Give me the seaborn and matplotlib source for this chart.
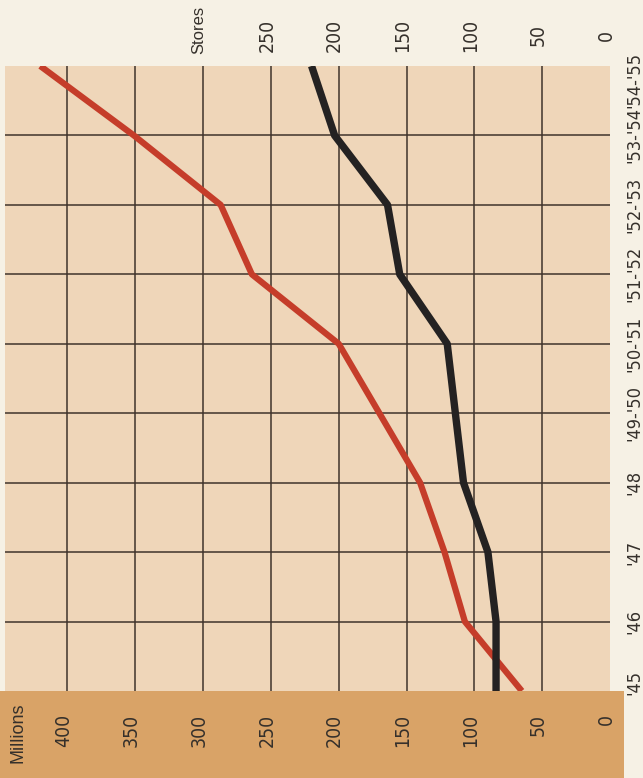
import matplotlib
matplotlib.use("Agg")
import matplotlib.pyplot as plt
import matplotlib.transforms as mtransforms
from matplotlib.patches import Rectangle
from matplotlib import font_manager
from matplotlib.font_manager import FontProperties
import seaborn as sns
import pandas as pd

# ---- data ----
categories = ["'45", "'46", "'47", "'48", "'49-'50", "'50-'51",
              "'51-'52", "'52-'53", "'53-'54", "'54-'55"]
millions = [65, 107, 122, 140, 170, 200, 264, 287, 351, 420]
stores = [84, 84, 90, 108, 114, 120, 155, 164, 203, 220]
millions_ticks = [0, 50, 100, 150, 200, 250, 300, 350, 400]
stores_ticks = [0, 50, 100, 150, 200, 250]

sns.set_style("white")


def pick_font(keys):
    for k in keys:
        for f in font_manager.fontManager.ttflist:
            if k in f.fname.split("/")[-1].lower():
                return f.fname
    return None


narrow_path = pick_font(["liberationsansnarrow-regular", "dejavusanscondensed.ttf",
                         "robotocondensed-regular", "dejavusanscondensed"])
is_liberation = bool(narrow_path) and "liberation" in narrow_path.lower()
regular_family = "Liberation Sans"
plt.rcParams["font.family"] = [regular_family, "DejaVu Sans"]


def nfont(size):
    # sizes are given for a narrow Arial-like face; DejaVu condensed is wider
    if narrow_path and is_liberation:
        return FontProperties(fname=narrow_path, size=size)
    if narrow_path:
        return FontProperties(fname=narrow_path, size=size * 0.84)
    return FontProperties(family="DejaVu Sans", size=size * 0.76)


W, H = 643, 778
BG = "#f6f1e5"
PLOT_BG = "#efd6b9"
BAND = "#d9a367"
GRID = "#3f332c"
RED = "#c53d2a"
BLACK = "#242222"
TXT = "#35302b"

fig = plt.figure(figsize=(W / 100, H / 100), dpi=100, facecolor=BG)

# orange band at the bottom (behind the axes' labels)
fig.patches.append(Rectangle((0, 0), 624 / W, 87 / H, transform=fig.transFigure,
                             facecolor=BAND, edgecolor="none", zorder=-5))

ax = fig.add_axes([5 / W, (H - 691) / H, (610 - 5) / W, (691 - 66) / H])
ax.set_facecolor(PLOT_BG)
XMAX = 446
ax.set_xlim(XMAX, 0)
ax.set_ylim(0, len(categories) - 1)
for s in ax.spines.values():
    s.set_visible(False)

# grid
for v in millions_ticks[1:]:
    ax.axvline(v, color=GRID, lw=1.1, zorder=1)
for i in range(1, len(categories) - 1):
    ax.axhline(i, color=GRID, lw=1.1, zorder=1)

df = pd.DataFrame({"cat": range(len(categories)), "millions": millions, "stores": stores})
sns.lineplot(data=df, x="millions", y="cat", orient="y", sort=False, estimator=None,
             color=RED, linewidth=4.5, ax=ax, zorder=3,
             solid_capstyle="butt", solid_joinstyle="round")
sns.lineplot(data=df, x="stores", y="cat", orient="y", sort=False, estimator=None,
             color=BLACK, linewidth=5.3, ax=ax, zorder=4,
             solid_capstyle="butt", solid_joinstyle="round")
ax.set_xlabel("")
ax.set_ylabel("")

off = mtransforms.ScaledTranslation(-4 / 100, 0, fig.dpi_scale_trans)

# bottom (Millions) tick labels
ax.set_xticks(millions_ticks)
ax.set_xticklabels([str(v) for v in millions_ticks], rotation=90, color=TXT)
ax.tick_params(axis="x", length=0, pad=16.5)
for lab in ax.get_xticklabels():
    lab.set_fontproperties(nfont(16.6))
    lab.set_transform(lab.get_transform() + off)

# right (category) tick labels
ax.yaxis.tick_right()
ax.set_yticks(range(len(categories)))
ax.set_yticklabels(categories, rotation=90, va="center", ha="left", color=TXT)
ax.tick_params(axis="y", length=0, pad=11)
ylabs = ax.get_yticklabels()
for lab in ylabs:
    lab.set_fontproperties(nfont(15.5))
ylabs[0].set_transform(ylabs[0].get_transform() +
                       mtransforms.ScaledTranslation(0, 9 / 100, fig.dpi_scale_trans))
ylabs[-1].set_transform(ylabs[-1].get_transform() +
                        mtransforms.ScaledTranslation(0, -14 / 100, fig.dpi_scale_trans))

# top (Stores) tick labels on a secondary axis with the same scale
ax2 = ax.secondary_xaxis("top")
ax2.set_xticks(stores_ticks + [300])
ax2.set_xticklabels([str(v) for v in stores_ticks] + ["Stores"], rotation=90,
                    va="center", color=TXT)
ax2.tick_params(axis="x", length=0, pad=22)
for s in ax2.spines.values():
    s.set_visible(False)
tl = ax2.get_xticklabels()
for lab in tl[:-1]:
    lab.set_fontproperties(nfont(16.6))
    lab.set_transform(lab.get_transform() + off)
tl[-1].set_fontfamily([regular_family, "DejaVu Sans"])
tl[-1].set_fontsize(12)
tl[-1].set_transform(tl[-1].get_transform() +
                     mtransforms.ScaledTranslation(-4 / 100, 6 / 100, fig.dpi_scale_trans))

fig.text(18 / W, (H - 733) / H, "Millions", rotation=90, ha="center", va="center",
         fontsize=13, color=TXT, family=[regular_family, "DejaVu Sans"])

fig.savefig("out.png", dpi=100, facecolor=BG)
